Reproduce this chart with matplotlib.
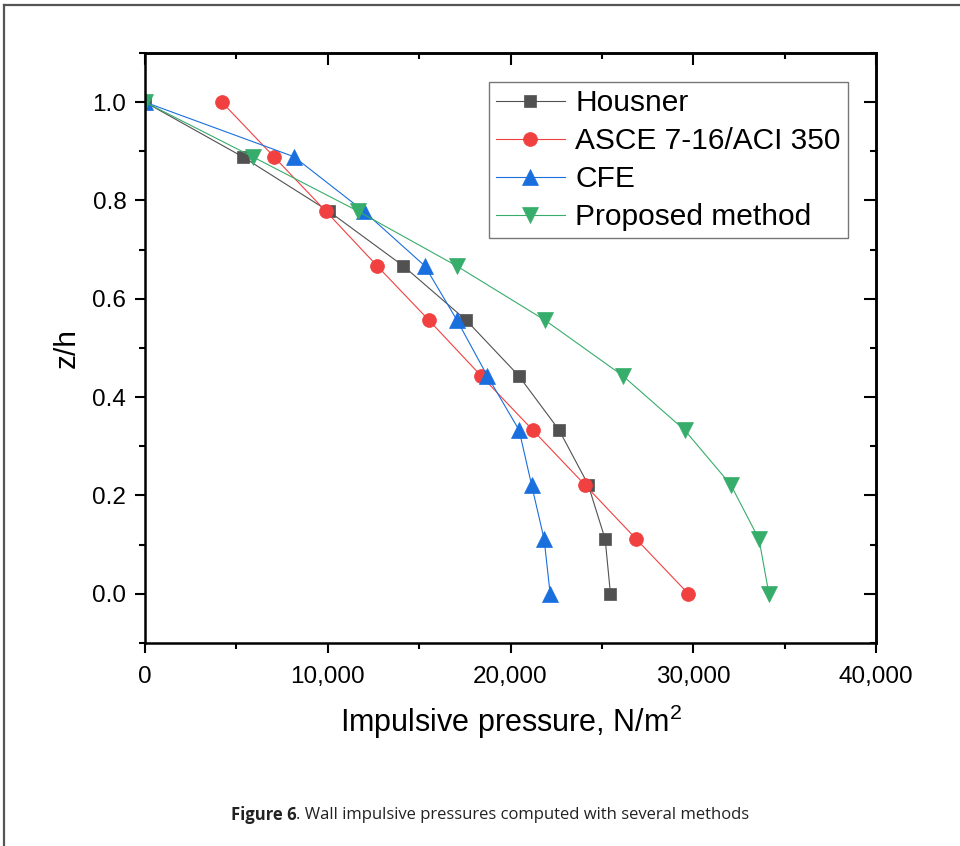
import matplotlib
matplotlib.use("Agg")
import matplotlib.pyplot as plt
from matplotlib.lines import Line2D
from matplotlib.ticker import MultipleLocator, FuncFormatter

# ---- data ----
z = [1.0, 0.889, 0.778, 0.667, 0.556, 0.444, 0.333, 0.222, 0.111, 0.0]
housner = [0, 5340, 10060, 14130, 17590, 20440, 22660, 24250, 25180, 25470]
asce = [4210, 7055, 9900, 12700, 15550, 18375, 21220, 24060, 26890, 29735]
cfe = [0, 8150, 11980, 15310, 17080, 18720, 20470, 21150, 21840, 22170]
proposed = [0, 5890, 11670, 17050, 21910, 26130, 29530, 32050, 33600, 34140]
labels = ["Housner", "ASCE 7-16/ACI 350", "CFE", "Proposed method"]
x_ticks = [0, 10000, 20000, 30000, 40000]
y_ticks = [0.0, 0.2, 0.4, 0.6, 0.8, 1.0]

colors = ["#515151", "#F14040", "#1A6FDF", "#37AD6B"]
markers = ["s", "o", "^", "v"]
msizes = [9, 10, 12, 12]

font = "Liberation Sans"
plt.rcParams["mathtext.fontset"] = "custom"
plt.rcParams["mathtext.rm"] = font
plt.rcParams["mathtext.it"] = font

W, H = 960, 846
fig = plt.figure(figsize=(W / 100, H / 100), dpi=100)

ax = fig.add_axes([145 / W, 1 - 643 / H, (876 - 145) / W, (643 - 53) / H])
series = [housner, asce, cfe, proposed]
for vals, c, m, ms, lab in zip(series, colors, markers, msizes, labels):
    ax.plot(vals, z, color=c, lw=0.8, alpha=1, marker=m, markersize=ms,
            markerfacecolor=c, markeredgecolor=c, markeredgewidth=0.5, label=lab)

ax.set_xlim(0, 40000)
ax.set_ylim(-0.1, 1.1)
ax.set_xticks(x_ticks)
ax.set_yticks(y_ticks)
ax.xaxis.set_minor_locator(MultipleLocator(5000))
ax.yaxis.set_minor_locator(MultipleLocator(0.1))
ax.xaxis.set_major_formatter(FuncFormatter(lambda v, p: f"{int(v):,}"))
ax.yaxis.set_major_formatter(FuncFormatter(lambda v, p: f"{v:.1f}"))

for s in ax.spines.values():
    s.set_linewidth(1.8)
ax.tick_params(which="major", direction="out", length=7.5, width=1.5,
               labelsize=17.5, pad=6)
ax.tick_params(which="minor", direction="out", length=4, width=1.5)
ax.tick_params(axis="x", which="major", pad=9)
for lab in ax.get_xticklabels() + ax.get_yticklabels():
    lab.set_fontfamily(font)

# mirrored inward ticks on top and right
top = ax.secondary_xaxis("top")
top.set_xticks(x_ticks)
top.xaxis.set_minor_locator(MultipleLocator(5000))
top.tick_params(which="major", direction="in", length=8.5, width=1.5, labeltop=False)
top.tick_params(which="minor", direction="in", length=4.5, width=1.5)
top.spines["top"].set_linewidth(1.8)
right = ax.secondary_yaxis("right")
right.set_yticks(y_ticks)
right.yaxis.set_minor_locator(MultipleLocator(0.1))
right.tick_params(which="major", direction="in", length=8.5, width=1.5, labelright=False)
right.tick_params(which="minor", direction="in", length=4.5, width=1.5)
right.spines["right"].set_linewidth(1.8)

ax.set_xlabel("Impulsive pressure, N/m$^2$", fontfamily=font, fontsize=22, labelpad=11)
ax.set_ylabel("z/h", fontfamily=font, fontsize=21.5, labelpad=8)

leg = ax.legend(loc="upper right", bbox_to_anchor=(848 / W, 1 - 82 / H),
                bbox_transform=fig.transFigure, borderaxespad=0,
                prop={"family": font, "size": 21.5}, frameon=True, fancybox=False,
                edgecolor="#555555", handlelength=2.3, handletextpad=0.35,
                labelspacing=0.33, borderpad=0.25, markerscale=1.0)
leg.get_frame().set_linewidth(1.0)

# page frame
fig.add_artist(Line2D([4 / W, 4 / W], [0, 1 - 5 / H], transform=fig.transFigure,
                      color="#555555", lw=1.6))
fig.add_artist(Line2D([4 / W, 1], [1 - 5 / H, 1 - 5 / H], transform=fig.transFigure,
                      color="#555555", lw=1.6))

# caption
cap_font = "Open Sans"
fig.canvas.draw()
r = fig.canvas.get_renderer()
t1 = fig.text(0, 1 - 815 / H, "Figure 6", fontfamily=cap_font, fontsize=12,
              fontweight="bold", color="#222222", va="center")
t2 = fig.text(0, 1 - 815 / H, ". Wall impulsive pressures computed with several methods",
              fontfamily=cap_font, fontsize=12, color="#222222", va="center")
w1 = t1.get_window_extent(r).width
w2 = t2.get_window_extent(r).width
x0 = 490 - (w1 + w2) / 2
t1.set_x(x0 / W)
t2.set_x((x0 + w1) / W)

fig.savefig("out.png", dpi=100)
